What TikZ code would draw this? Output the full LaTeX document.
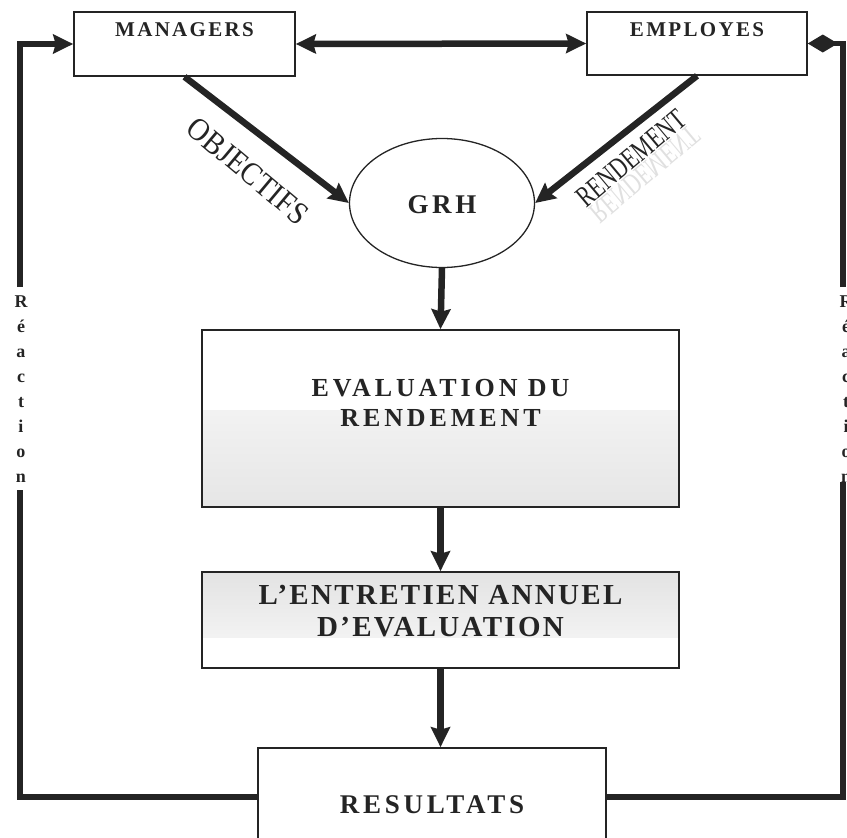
\documentclass[tikz,border=0pt]{standalone}
\usepackage{fontspec}
\setmainfont{Liberation Serif}
\usetikzlibrary{arrows.meta,shapes.geometric,backgrounds}
\definecolor{ink}{HTML}{242424}
\begin{document}
\begin{tikzpicture}[x=1pt,y=-1pt,
  >={Stealth[length=20pt,width=19pt,inset=2.5pt]},
  box/.style={draw=ink, line width=1.6pt, rectangle, inner sep=0pt},
  flow/.style={draw=ink, line width=6.5pt, ->},
  loopline/.style={draw=ink, line width=5.5pt, line join=miter},
  boxtext/.style={text=ink, inner sep=0pt, align=center},
  small/.style={boxtext, font=\bfseries\addfontfeatures{LetterSpace=11}\fontsize{21}{24}\selectfont},
  mid/.style={boxtext, font=\bfseries\addfontfeatures{LetterSpace=15}\fontsize{26}{30}\selectfont},
  reac/.style={boxtext, font=\bfseries\fontsize{18}{25}\selectfont},
  slant/.style={text=ink, inner sep=0pt}]
\useasboundingbox (0,0) rectangle (847,838);

% top actors
\node[box, minimum width=221pt, minimum height=64pt] (mgr) at (184.5,44) {};
\node[small] (mgrT) at (184.5,30) {MANAGERS};
\node[box, minimum width=220pt, minimum height=63pt] (emp) at (697,43.5) {};
\node[small] (empT) at (697,30) {EMPLOYES};

% central process
\node[draw=ink, line width=1.3pt, ellipse, minimum width=185pt, minimum height=129pt, inner sep=0pt] (grh) at (442,203) {};
\node[boxtext, font=\bfseries\addfontfeatures{LetterSpace=13}\fontsize{27}{30}\selectfont] (grhT) at (442,205) {GRH};

\node[box, minimum width=477pt, minimum height=177pt] (eval) at (440.5,418.5) {};
\node[mid] (evalT) at (440.5,403) {EVALUATION DU\\RENDEMENT};

\node[box, minimum width=477pt, minimum height=96pt] (entr) at (440.5,620) {};
\node[boxtext, font=\bfseries\addfontfeatures{LetterSpace=8}\fontsize{29}{32}\selectfont] (entrT) at (440.5,611) {L’ENTRETIEN ANNUEL\\D’EVALUATION};

\node[box, minimum width=348pt, minimum height=98pt] (res) at (432,797) {};
\node[boxtext, font=\bfseries\addfontfeatures{LetterSpace=14}\fontsize{27}{30}\selectfont] (resT) at (432,805) {RESULTATS};

% light grey bands behind the process boxes
\begin{scope}[on background layer]
  \shade[top color=gray!10, bottom color=gray!20] (202,410) rectangle (679,507);
  \shade[top color=gray!22, bottom color=gray!10] (202,572) rectangle (679,637);
\end{scope}

% connectors
\draw[flow, <->] (mgr.east) -- (emp.west);
\draw[flow] (mgr.south) -- (grh.west);
\draw[flow] (emp.south) -- (grh.east);
\draw[flow] (grh.south) -- (eval.north);
\draw[flow] (eval.south) -- (entr.north);
\draw[flow] (entr.south) -- (entr.south |- res.north);

% arrow labels (condensed, with a faint reflection under RENDEMENT)
\node[slant, rotate=-40, xscale=0.9, font=\fontsize{32}{34}\selectfont] (objT) at (248,171) {OBJECTIFS};
\node[slant, rotate=40, xscale=0.72, yscale=-1, opacity=0.14, font=\fontsize{30}{32}\selectfont] (rendS) at (645,174) {RENDEMENT};
\node[slant, rotate=40, xscale=0.72, font=\fontsize{30}{32}\selectfont] (rendT) at (631,158) {RENDEMENT};

% feedback loops
\node[reac] (reacL) at (21,389) {R\\é\\a\\c\\t\\i\\o\\n};
\node[reac] (reacR) at (846,389) {R\\é\\a\\c\\t\\i\\o\\n};
\coordinate (lt) at (20,287);
\coordinate (lb) at (20,490);
\coordinate (rt) at (843,287);
\coordinate (rb) at (843,482);
\draw[loopline] (res.west) -| (lb);
\draw[loopline, ->] (lt) |- (mgr.west);
\draw[loopline] (res.east) -| (rb);
\draw[loopline, -{Diamond[length=30pt,width=18pt]}] (rt) |- (emp.east);
\end{tikzpicture}
\end{document}
